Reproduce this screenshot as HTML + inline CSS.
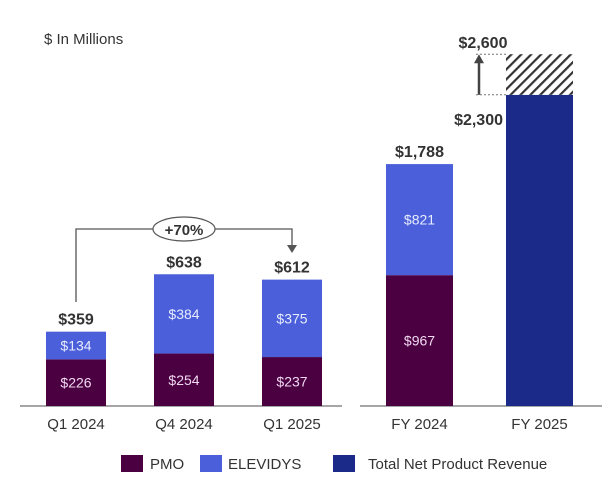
<!DOCTYPE html>
<html><head><meta charset="utf-8"><style>
body{margin:0;background:#fff;font-family:"Liberation Sans",sans-serif}
svg text{font-family:"Liberation Sans",sans-serif}
</style></head><body>
<svg width="610" height="481" id="chart">
<defs><pattern id="hatch" width="7" height="7" patternUnits="userSpaceOnUse" patternTransform="rotate(45)"><rect width="7" height="7" fill="#fff"/><rect width="2.2" height="7" fill="#333"/></pattern></defs>
<text x="44" y="44" font-size="15" fill="#333">$ In Millions</text>
<line x1="20" y1="406" x2="342" y2="406" stroke="#888" stroke-width="1.5"/>
<line x1="360" y1="406" x2="602" y2="406" stroke="#888" stroke-width="1.5"/>
<g id="bars"></g>
<g>
<polyline points="76,302 76,229 292,229 292,246" fill="none" stroke="#555" stroke-width="1.3"/>
<polygon points="287,245 297,245 292,253" fill="#555"/>
<ellipse cx="184" cy="229" rx="31" ry="12" fill="#fff" stroke="#555" stroke-width="1.2"/>
<text x="184" y="235" font-size="15" font-weight="bold" fill="#333" text-anchor="middle">+70%</text>
</g>
<g>
<rect x="121" y="455" width="22" height="17" fill="#4b0042"/>
<text x="150" y="469" font-size="15" fill="#333">PMO</text>
<rect x="200" y="455" width="22" height="17" fill="#4a5fd9"/>
<text x="228" y="469" font-size="15" fill="#333">ELEVIDYS</text>
<rect x="333" y="455" width="22" height="17" fill="#1b2a88"/>
<text x="368" y="469" font-size="15" fill="#333">Total Net Product Revenue</text>
</g>
</svg>
<script>
const qCats=["Q1 2024","Q4 2024","Q1 2025"];
const qPmo=[226,254,237];
const qElev=[134,384,375];
const qTotals=["$359","$638","$612"];
const fyCats=["FY 2024","FY 2025"];
const fyPmo=[967,0];
const fyElev=[821,0];
const fyTotal=[0,2300];
const fyGuideHigh=2600;
const base=406;
const yL=v=>base-v*0.2065;
const yR=v=>base-v*0.1353;
const g=document.getElementById('bars');
const NS="http://www.w3.org/2000/svg";
function el(t,a,txt){const e=document.createElementNS(NS,t);for(const k in a)e.setAttribute(k,a[k]);if(txt!=null)e.textContent=txt;g.appendChild(e);return e;}
const qX=[46,154,262],qW=60;
qCats.forEach((c,i)=>{
 const x=qX[i],cx=x+qW/2;
 const p=el('rect',{x:x,y:yL(qPmo[i]),width:qW,height:base-yL(qPmo[i]),fill:'#4b0042'});
 
 
 const e=el('rect',{x:x,y:yL(qPmo[i]+qElev[i]),width:qW,height:yL(qPmo[i])-yL(qPmo[i]+qElev[i]),fill:'#4a5fd9'});
 
 
 el('text',{x:cx,y:(yL(qPmo[i])+base)/2+5,'font-size':14,fill:'#f0d8f0','text-anchor':'middle'},'$'+qPmo[i]);
 el('text',{x:cx,y:(yL(qPmo[i])+yL(qPmo[i]+qElev[i]))/2+5,'font-size':14,fill:'#e8ecff','text-anchor':'middle'},'$'+qElev[i]);
 el('text',{x:cx,y:yL(qPmo[i]+qElev[i])-7,'font-size':16,'font-weight':'bold',fill:'#333','text-anchor':'middle'},qTotals[i]);
 el('text',{x:cx,y:429,'font-size':15,fill:'#333','text-anchor':'middle'},c);
});
const fX=[386,506],fW=67;
fyCats.forEach((c,i)=>{
 const x=fX[i],cx=x+fW/2;
 if(fyPmo[i]){
  const p=el('rect',{x:x,y:yR(fyPmo[i]),width:fW,height:base-yR(fyPmo[i]),fill:'#4b0042'});
  
  
  const e=el('rect',{x:x,y:yR(fyPmo[i]+fyElev[i]),width:fW,height:yR(fyPmo[i])-yR(fyPmo[i]+fyElev[i]),fill:'#4a5fd9'});
  
  
  el('text',{x:cx,y:(yR(fyPmo[i])+base)/2+5,'font-size':14,fill:'#f0d8f0','text-anchor':'middle'},'$'+fyPmo[i]);
  el('text',{x:cx,y:(yR(fyPmo[i])+yR(fyPmo[i]+fyElev[i]))/2+5,'font-size':14,fill:'#e8ecff','text-anchor':'middle'},'$'+fyElev[i]);
  const t=(fyPmo[i]+fyElev[i]).toLocaleString('en-US');
  el('text',{x:cx,y:yR(fyPmo[i]+fyElev[i])-7,'font-size':16,'font-weight':'bold',fill:'#333','text-anchor':'middle'},'$'+t);
 }
 if(fyTotal[i]){
  const r=el('rect',{x:x,y:yR(fyTotal[i]),width:fW,height:base-yR(fyTotal[i]),fill:'#1b2a88'});
  
  
  const h=el('rect',{x:x,y:yR(fyGuideHigh),width:fW,height:yR(fyTotal[i])-yR(fyGuideHigh),fill:'url(#hatch)'});
  
  
  el('line',{x1:476,x2:x,y1:yR(fyGuideHigh),y2:yR(fyGuideHigh),stroke:'#777','stroke-dasharray':'2,2'});
  el('line',{x1:476,x2:x,y1:yR(fyTotal[i]),y2:yR(fyTotal[i]),stroke:'#777','stroke-dasharray':'2,2'});
  el('line',{x1:479,x2:479,y1:yR(fyTotal[i]),y2:yR(fyGuideHigh)+7,stroke:'#444','stroke-width':2.5});
  el('polygon',{points:`474,${yR(fyGuideHigh)+9} 484,${yR(fyGuideHigh)+9} 479,${yR(fyGuideHigh)}`,fill:'#444'});
  el('text',{x:x-3,y:yR(fyTotal[i])+30,'font-size':16,'font-weight':'bold',fill:'#333','text-anchor':'end'},'$'+fyTotal[i].toLocaleString('en-US'));
  el('text',{x:483,y:yR(fyGuideHigh)-6,'font-size':16,'font-weight':'bold',fill:'#333','text-anchor':'middle'},'$'+fyGuideHigh.toLocaleString('en-US'));
 }
 el('text',{x:cx,y:429,'font-size':15,fill:'#333','text-anchor':'middle'},c);
});
</script>
</body></html>
